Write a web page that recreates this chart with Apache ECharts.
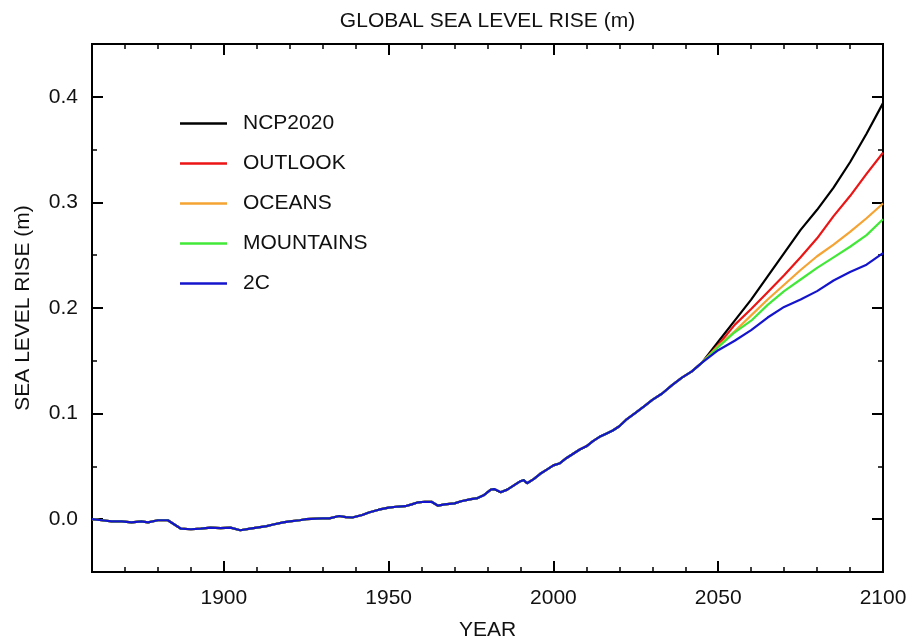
<!DOCTYPE html>
<html>
<head>
<meta charset="utf-8">
<title>Global sea level rise</title>
<script src="https://cdn.jsdelivr.net/npm/echarts@6/dist/echarts.min.js"></script>
<style>
  html, body { margin: 0; padding: 0; background: #ffffff; }
  #chart { width: 911px; height: 638px; }
</style>
</head>
<body>
<div id="chart"></div>
<script>
// Shared historical record (year, metres), common to every scenario
const histYears = [1860, 1863, 1866, 1869, 1872, 1875, 1877, 1880, 1883, 1885, 1887, 1890, 1893, 1896, 1899,
  1902, 1905, 1908, 1910, 1913, 1915, 1918, 1920, 1923, 1925, 1928, 1930, 1932, 1935, 1937, 1939,
  1942, 1944, 1947, 1950, 1953, 1955, 1957, 1959, 1961, 1963, 1965, 1967, 1970, 1972, 1975, 1977,
  1979, 1981, 1982, 1984, 1986, 1988, 1990, 1991, 1992, 1994, 1996, 1998, 2000, 2002, 2004, 2006,
  2008, 2010, 2012, 2014, 2016, 2018, 2020, 2022, 2025, 2028, 2030, 2033, 2036, 2039, 2042, 2045];
const histRise = [0.000, -0.001, -0.002, -0.002, -0.003, -0.002, -0.003, -0.001, -0.001, -0.005, -0.009, -0.0095, -0.009, -0.008, -0.0085,
  -0.008, -0.0105, -0.009, -0.008, -0.0065, -0.005, -0.003, -0.002, -0.001, 0.000, 0.0005, 0.0007, 0.0008, 0.003, 0.002, 0.0016,
  0.004, 0.0063, 0.009, 0.011, 0.012, 0.0123, 0.014, 0.016, 0.0165, 0.0165, 0.0128, 0.014, 0.015, 0.017, 0.019, 0.020,
  0.023, 0.028, 0.0285, 0.0255, 0.028, 0.032, 0.036, 0.037, 0.034, 0.038, 0.043, 0.047, 0.051, 0.053, 0.058, 0.062,
  0.066, 0.069, 0.074, 0.078, 0.081, 0.084, 0.088, 0.094, 0.101, 0.108, 0.113, 0.119, 0.127, 0.134, 0.140, 0.148];

// Scenario projections
const projYears = [2050, 2055, 2060, 2065, 2070, 2075, 2080, 2085, 2090, 2095, 2100];
const ncp2020   = [0.168, 0.188, 0.208, 0.230, 0.252, 0.274, 0.293, 0.314, 0.338, 0.365, 0.394];
const outlook   = [0.165, 0.184, 0.199, 0.215, 0.231, 0.248, 0.266, 0.287, 0.306, 0.327, 0.347];
const oceans    = [0.164, 0.178, 0.193, 0.208, 0.222, 0.236, 0.249, 0.260, 0.272, 0.285, 0.299];
const mountains = [0.163, 0.177, 0.188, 0.203, 0.216, 0.227, 0.238, 0.248, 0.258, 0.269, 0.284];
const twoC      = [0.160, 0.169, 0.179, 0.191, 0.201, 0.208, 0.216, 0.226, 0.234, 0.241, 0.252];

const scenarioNames = ['NCP2020', 'OUTLOOK', 'OCEANS', 'MOUNTAINS', '2C'];
const scenarioColors = ['#000000', '#ec1515', '#f5a332', '#42e838', '#1414cc'];
const scenarioValues = [ncp2020, outlook, oceans, mountains, twoC];

// Axis ticks
const xMajorTicks = [1900, 1950, 2000, 2050, 2100];
const xMinorTicks = [1870, 1880, 1890, 1910, 1920, 1930, 1940, 1960, 1970, 1980, 1990,
  2010, 2020, 2030, 2040, 2060, 2070, 2080, 2090];
const yMajorTicks = [0, 0.1, 0.2, 0.3, 0.4];
const yMinorTicks = [0.05, 0.15, 0.25, 0.35];

const FONT = '"Liberation Sans", Arial, Helvetica, sans-serif';
const X_MIN = 1860, X_MAX = 2100, Y_MIN = -0.05, Y_MAX = 0.45;

function seriesData(proj) {
  const pts = histYears.map((y, i) => [y, histRise[i]]);
  projYears.forEach((y, i) => pts.push([y, proj[i]]));
  return pts;
}

function xAxisDef(position, ticks, len, width, withLabels, extra) {
  return Object.assign({
    type: 'value', gridIndex: 0, position: position, min: X_MIN, max: X_MAX,
    axisLine: { show: false, onZero: false },
    splitLine: { show: false },
    axisTick: { show: true, inside: true, length: len, customValues: ticks,
      lineStyle: { color: '#000', width: width } },
    axisLabel: withLabels ? {
      show: true, customValues: ticks, margin: 16,
      fontFamily: FONT, fontSize: 21, color: '#111',
      formatter: v => String(v)
    } : { show: false }
  }, extra || {});
}

function yAxisDef(position, ticks, len, width, withLabels, extra) {
  return Object.assign({
    type: 'value', gridIndex: 0, position: position, min: Y_MIN, max: Y_MAX,
    axisLine: { show: false, onZero: false },
    splitLine: { show: false },
    axisTick: { show: true, inside: true, length: len, customValues: ticks,
      lineStyle: { color: '#000', width: width } },
    axisLabel: withLabels ? {
      show: true, customValues: ticks, margin: 14,
      fontFamily: FONT, fontSize: 21, color: '#111',
      formatter: v => v.toFixed(1)
    } : { show: false }
  }, extra || {});
}

const chart = echarts.init(document.getElementById('chart'), null, { renderer: 'canvas' });

chart.setOption({
  backgroundColor: '#ffffff',
  animation: false,
  grid: {
    left: 92, right: 28, top: 44, bottom: 66,
    outerBoundsMode: 'none',
    containLabel: false,
    show: true, borderColor: '#000', borderWidth: 2, backgroundColor: 'transparent'
  },
  legend: {
    orient: 'vertical',
    left: 175, top: 108,
    itemWidth: 47, itemHeight: 21, itemGap: 19,
    icon: 'path://M0,0 L47,0 L47,2.4 L0,2.4 Z',
    textStyle: { fontFamily: FONT, fontSize: 21, color: '#111', padding: [0, 0, 0, 11] },
    data: scenarioNames
  },
  xAxis: [
    xAxisDef('bottom', xMajorTicks, 11, 2, true, {
      name: 'YEAR', nameLocation: 'middle', nameGap: 48,
      nameTextStyle: { fontFamily: FONT, fontSize: 21, color: '#111' }
    }),
    xAxisDef('bottom', xMinorTicks, 5, 1.5, false),
    xAxisDef('top', xMajorTicks, 11, 2, false, {
      name: 'GLOBAL SEA LEVEL RISE (m)', nameLocation: 'middle', nameGap: 12,
      nameTextStyle: { fontFamily: FONT, fontSize: 21, color: '#111' }
    }),
    xAxisDef('top', xMinorTicks, 5, 1.5, false)
  ],
  yAxis: [
    yAxisDef('left', yMajorTicks, 11, 2, true, {
      name: 'SEA LEVEL RISE (m)', nameLocation: 'middle', nameGap: 58, nameRotate: 90,
      nameTextStyle: { fontFamily: FONT, fontSize: 21, color: '#111' }
    }),
    yAxisDef('left', yMinorTicks, 5, 1.5, false),
    yAxisDef('right', yMajorTicks, 11, 2, false),
    yAxisDef('right', yMinorTicks, 5, 1.5, false)
  ],
  series: scenarioNames.map((name, i) => ({
    name: name,
    type: 'line',
    xAxisIndex: 0,
    yAxisIndex: 0,
    symbol: 'none',
    smooth: false,
    z: 2 + i,
    clip: true,
    color: scenarioColors[i],
    lineStyle: { color: scenarioColors[i], width: 2.2 },
    data: seriesData(scenarioValues[i])
  }))
});
</script>
</body>
</html>
